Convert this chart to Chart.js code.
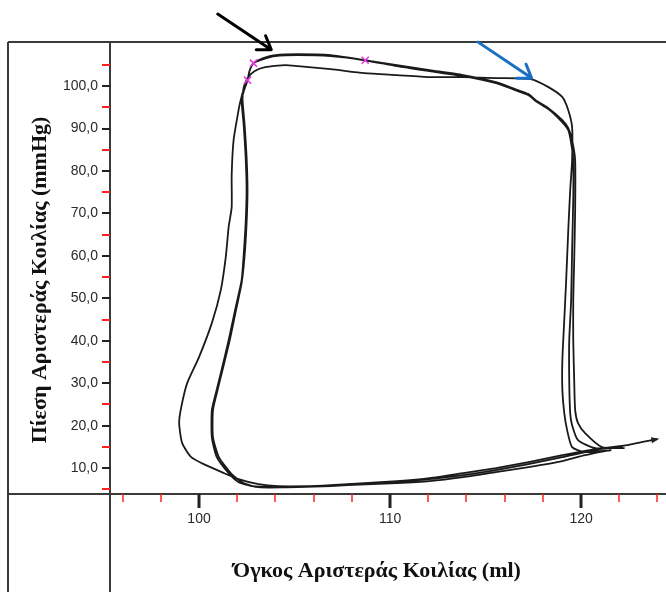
<!DOCTYPE html>
<html>
<head>
<meta charset="utf-8">
<title>Βρόχος Πίεσης-Όγκου</title>
<script src="https://cdn.jsdelivr.net/npm/chart.js@4.4.1/dist/chart.umd.min.js"></script>
<style>
  html, body { margin: 0; padding: 0; background: #fff; }
  #wrap { width: 666px; height: 592px; position: relative; }
</style>
</head>
<body>
<div id="wrap"><canvas id="pv"></canvas></div>
<script>
// Left-ventricular pressure–volume trace, three consecutive beats (ml, mmHg)
const beat1Volume = [122.28, 121.09, 120.21, 119.84, 119.69, 119.64, 119.59, 119.59, 119.64, 119.69, 119.69, 119.53,
  119.33, 119.02, 118.29, 117.62, 117.25, 116.42, 115.54, 113.83, 112.07, 110.36, 108.65, 106.89, 105.18,
  103.99, 103.37, 102.85, 102.64, 102.54, 102.33, 102.23, 102.33, 102.44, 102.49, 102.44, 102.33, 102.23, 101.92,
  101.55, 101.14, 100.88, 100.67, 100.67, 100.93, 101.55, 102.07, 102.75, 103.99, 105.18, 106.89, 108.65, 110.36,
  112.07, 113.83, 115.54, 117.25, 119.02, 120.73, 121.76, 122.18];
const beat1Pressure = [14.70, 14.94, 18.24, 20.59, 23.66, 30.73, 40.15, 49.58, 59.00, 70.78, 82.56, 87.28,
  90.10, 91.99, 94.82, 96.70, 98.12, 99.53, 100.94, 102.59, 103.77, 104.95, 106.13, 107.30, 107.54,
  107.30, 106.60, 105.42, 103.53, 101.41, 98.59, 96.70, 91.28, 83.27, 75.49, 67.72, 59.71, 54.29, 47.93,
  40.15, 32.38, 27.66, 23.66, 17.30, 12.58, 8.81, 6.69, 5.75, 5.51, 5.51, 5.75, 6.22, 6.69,
  7.40, 8.34, 9.52, 10.93, 12.58, 14.23, 14.94, 15.17];

const beat2Volume = [120.73, 119.84, 119.53, 119.43, 119.38, 119.38, 119.48, 119.53, 119.59, 119.59, 119.48, 119.33,
  118.96, 118.29, 117.62, 117.25, 116.42, 115.54, 113.83, 112.07, 110.36, 108.70, 106.89, 105.18, 103.99, 103.37,
  102.85, 102.64, 102.54, 102.33, 102.18, 102.07, 101.81, 101.71, 101.71, 101.55, 101.40, 101.14, 100.67, 100.00,
  99.38, 99.07, 98.96, 99.12, 99.59, 100.36, 101.19, 102.07, 103.11, 104.15, 105.70, 107.77, 110.36, 112.07,
  113.83, 115.54, 117.25, 119.02, 120.21, 121.24, 121.55];
const beat2Pressure = [14.70, 16.59, 20.12, 22.95, 30.73, 40.15, 49.58, 61.36, 73.14, 82.56, 86.57, 89.63,
  91.75, 94.58, 96.47, 97.88, 99.29, 100.71, 102.36, 103.53, 104.71, 106.10, 107.07, 107.30, 107.07, 106.36,
  105.40, 103.53, 101.40, 99.06, 96.70, 94.34, 87.28, 79.03, 71.49, 66.78, 59.71, 51.93, 44.16, 36.15,
  30.02, 24.36, 20.59, 15.88, 12.58, 10.70, 9.05, 7.40, 6.22, 5.75, 5.75, 5.98, 6.46, 6.93,
  7.87, 9.05, 10.23, 11.64, 13.05, 14.00, 14.23];

const beat3Volume = [120.21, 119.53, 119.27, 119.12, 119.02, 119.02, 119.12, 119.22, 119.33, 119.43, 119.53, 119.53,
  119.33, 119.02, 118.29, 117.36, 115.54, 113.83, 112.07, 110.36, 108.65, 106.89, 105.18, 104.51, 103.47, 102.90,
  102.54, 102.33, 102.28, 102.38, 102.49, 102.54, 102.49, 102.38, 102.23, 101.97, 101.61, 101.19, 100.93, 100.73,
  100.73, 101.04, 101.71, 102.33, 103.11, 104.66, 106.89, 108.65, 110.36, 112.07, 113.83, 115.54, 117.25, 119.02,
  120.73, 122.44, 123.16, 123.99];
const beat3Pressure = [13.76, 14.94, 18.94, 22.95, 28.37, 35.44, 44.86, 54.29, 66.07, 75.49, 82.56, 90.34,
  94.34, 97.41, 99.76, 101.65, 101.89, 102.12, 102.12, 102.59, 103.06, 104.01, 104.71, 104.95, 104.48, 103.53,
  101.89, 99.53, 96.70, 91.28, 83.27, 75.49, 67.72, 59.71, 53.58, 47.93, 40.15, 32.38, 27.66, 23.66,
  17.30, 12.58, 8.58, 6.46, 5.51, 5.51, 5.98, 6.46, 6.93, 7.63, 8.81, 9.99, 11.40, 13.05,
  14.47, 15.41, 16.12, 16.82];

// Marked samples on the ejection limb
const markVolume = [102.85, 102.54, 108.70];
const markPressure = [105.40, 101.40, 106.10];

// Annotation arrows [fromVolume, fromPressure, toVolume, toPressure]
const blackArrow = [100.98, 116.97, 103.78, 108.60];
const blueArrow = [114.61, 110.37, 117.41, 101.89];

// Axis ticks
const xMajorTicks = [100, 110, 120];
const xMinorTicks = [96, 98, 102, 104, 106, 108, 112, 114, 116, 118, 122, 124];
const yMajorTicks = [10, 20, 30, 40, 50, 60, 70, 80, 90, 100];
const yMinorTicks = [5, 15, 25, 35, 45, 55, 65, 75, 85, 95, 105];

const xTitle = 'Όγκος Αριστεράς Κοιλίας (ml)';
const yTitle = 'Πίεση Αριστεράς Κοιλίας (mmHg)';

const toPoints = (xs, ys) => xs.map((v, i) => ({ x: v, y: ys[i] }));
const trace = [
  ...toPoints(beat1Volume, beat1Pressure),
  ...toPoints(beat2Volume, beat2Pressure),
  ...toPoints(beat3Volume, beat3Pressure)
];

function drawArrow(ctx, x0, y0, x1, y1, color, width, head) {
  const ang = Math.atan2(y1 - y0, x1 - x0);
  ctx.save();
  ctx.strokeStyle = color;
  ctx.lineWidth = width;
  ctx.lineCap = 'round';
  ctx.lineJoin = 'round';
  ctx.beginPath();
  ctx.moveTo(x0, y0);
  ctx.lineTo(x1, y1);
  ctx.moveTo(x1 - head * Math.cos(ang - 0.6), y1 - head * Math.sin(ang - 0.6));
  ctx.lineTo(x1, y1);
  ctx.lineTo(x1 - head * Math.cos(ang + 0.6), y1 - head * Math.sin(ang + 0.6));
  ctx.stroke();
  ctx.restore();
}

const framePlugin = {
  id: 'framePlugin',
  beforeDraw(chart) {
    const ctx = chart.ctx;
    ctx.save();
    ctx.fillStyle = '#ffffff';
    ctx.fillRect(0, 0, chart.width, chart.height);
    ctx.restore();
  },
  afterDraw(chart) {
    const { ctx, chartArea: a, scales: { x, y } } = chart;
    const W = chart.width, H = chart.height;
    ctx.save();
    // frame and axis lines
    ctx.strokeStyle = '#3a3a3a';
    ctx.lineWidth = 2;
    ctx.beginPath();
    ctx.moveTo(8, a.top); ctx.lineTo(W, a.top);
    ctx.moveTo(8, a.top); ctx.lineTo(8, H);
    ctx.moveTo(a.left, a.top); ctx.lineTo(a.left, H);
    ctx.moveTo(8, a.bottom); ctx.lineTo(W, a.bottom);
    ctx.stroke();

    // y ticks
    ctx.lineWidth = 2;
    ctx.strokeStyle = '#ff2020';
    ctx.beginPath();
    yMinorTicks.forEach(v => { const p = Math.round(y.getPixelForValue(v)); ctx.moveTo(a.left - 8, p); ctx.lineTo(a.left, p); });
    ctx.stroke();
    ctx.strokeStyle = '#222';
    ctx.beginPath();
    yMajorTicks.forEach(v => { const p = Math.round(y.getPixelForValue(v)); ctx.moveTo(a.left - 8, p); ctx.lineTo(a.left, p); });
    ctx.stroke();

    // x ticks
    ctx.strokeStyle = '#ff2020';
    ctx.lineWidth = 1.5;
    ctx.beginPath();
    xMinorTicks.forEach(v => { const p = Math.round(x.getPixelForValue(v)); ctx.moveTo(p, a.bottom); ctx.lineTo(p, a.bottom + 8); });
    ctx.stroke();
    ctx.strokeStyle = '#222';
    ctx.lineWidth = 3;
    ctx.beginPath();
    xMajorTicks.forEach(v => { const p = Math.round(x.getPixelForValue(v)); ctx.moveTo(p, a.bottom); ctx.lineTo(p, a.bottom + 14); });
    ctx.stroke();

    // end-of-record arrowhead
    const n = trace.length;
    const tx = x.getPixelForValue(trace[n - 1].x), ty = y.getPixelForValue(trace[n - 1].y);
    const px = x.getPixelForValue(trace[n - 2].x), py = y.getPixelForValue(trace[n - 2].y);
    const ang = Math.atan2(ty - py, tx - px);
    ctx.fillStyle = '#222';
    ctx.beginPath();
    ctx.moveTo(tx + 2 * Math.cos(ang), ty + 2 * Math.sin(ang));
    ctx.lineTo(tx - 6 * Math.cos(ang) - 3 * Math.sin(ang), ty - 6 * Math.sin(ang) + 3 * Math.cos(ang));
    ctx.lineTo(tx - 6 * Math.cos(ang) + 3 * Math.sin(ang), ty - 6 * Math.sin(ang) - 3 * Math.cos(ang));
    ctx.closePath();
    ctx.fill();

    // annotation arrows
    drawArrow(ctx, x.getPixelForValue(blackArrow[0]), y.getPixelForValue(blackArrow[1]),
      x.getPixelForValue(blackArrow[2]), y.getPixelForValue(blackArrow[3]), '#000', 3, 15);
    drawArrow(ctx, x.getPixelForValue(blueArrow[0]), y.getPixelForValue(blueArrow[1]),
      x.getPixelForValue(blueArrow[2]), y.getPixelForValue(blueArrow[3]), '#1a6fc4', 3, 15);

    // axis titles
    ctx.fillStyle = '#111';
    ctx.font = 'bold 22px "Liberation Serif", "DejaVu Serif", serif';
    ctx.textAlign = 'center';
    ctx.textBaseline = 'alphabetic';
    ctx.fillText(xTitle, 377, 577);
    ctx.save();
    ctx.translate(46, 280);
    ctx.rotate(-Math.PI / 2);
    ctx.fillText(yTitle, 0, 0);
    ctx.restore();
    ctx.restore();
  }
};

new Chart(document.getElementById('pv'), {
  type: 'scatter',
  data: {
    datasets: [
      {
        label: 'σημεία',
        data: toPoints(markVolume, markPressure),
        showLine: false,
        pointStyle: 'crossRot',
        pointRadius: 5,
        borderColor: '#e23ae2',
        borderWidth: 1.6
      },
      {
        label: 'Πίεση–Όγκος',
        data: trace,
        showLine: true,
        borderColor: '#1a1a1a',
        borderWidth: 1.8,
        pointRadius: 0,
        tension: 0.2,
        fill: false
      }
    ]
  },
  plugins: [framePlugin],
  options: {
    responsive: true,
    maintainAspectRatio: false,
    animation: false,
    devicePixelRatio: 1,
    layout: { padding: { top: 42, left: 0, right: 0, bottom: 0 } },
    plugins: { legend: { display: false }, tooltip: { enabled: false } },
    scales: {
      x: {
        type: 'linear',
        min: 95.34,
        max: 124.1,
        grid: { display: false, drawTicks: false },
        border: { display: false },
        afterBuildTicks: s => { s.ticks = xMajorTicks.map(v => ({ value: v })); },
        afterFit: s => { s.height = 98; },
        ticks: {
          autoSkip: false,
          maxRotation: 0,
          padding: 17,
          color: '#2a2a2a',
          font: { family: '"Liberation Sans", Arial, sans-serif', size: 14 },
          callback: v => String(v)
        }
      },
      y: {
        type: 'linear',
        min: 3.9,
        max: 110.4,
        grid: { display: false, drawTicks: false },
        border: { display: false },
        afterBuildTicks: s => { s.ticks = yMajorTicks.map(v => ({ value: v })); },
        afterFit: s => { s.width = 110; },
        ticks: {
          autoSkip: false,
          padding: 12,
          color: '#2a2a2a',
          font: { family: '"Liberation Sans", Arial, sans-serif', size: 14 },
          callback: v => v.toFixed(1).replace('.', ',')
        }
      }
    }
  }
});
</script>
</body>
</html>
